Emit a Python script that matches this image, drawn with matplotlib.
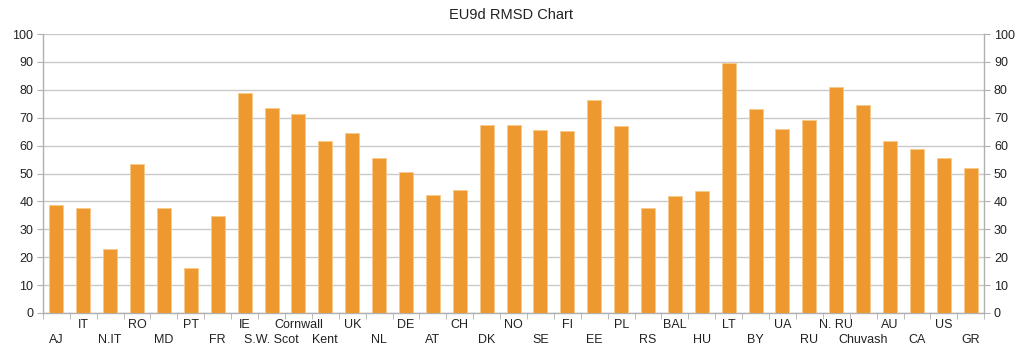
import matplotlib
matplotlib.use('Agg')
from matplotlib import pyplot as plt
import numpy as np

# populations along the x axis
labels = ['AJ', 'IT', 'N.IT', 'RO', 'MD', 'PT', 'FR', 'IE', 'S.W. Scot', 'Cornwall',
          'Kent', 'UK', 'NL', 'DE', 'AT', 'CH', 'DK', 'NO', 'SE', 'FI',
          'EE', 'PL', 'RS', 'BAL', 'HU', 'LT', 'BY', 'UA', 'RU', 'N. RU',
          'Chuvash', 'AU', 'CA', 'US', 'GR']
# RMSD values
rmsd = [38.6, 37.6, 22.8, 53.5, 37.7, 16.0, 34.9, 78.9, 73.6, 71.4,
        61.8, 64.6, 55.5, 50.5, 42.4, 44.0, 67.3, 67.4, 65.5, 65.4,
        76.3, 67.1, 37.7, 42.1, 43.6, 89.7, 73.0, 65.9, 69.1, 81.0,
        74.5, 61.7, 58.7, 55.7, 51.8]
yticks = list(range(0, 101, 10))

plt.rcParams['font.family'] = ['Liberation Sans', 'DejaVu Sans']

fig = plt.figure(figsize=(10.22, 3.47), dpi=100)
ax = fig.add_axes([0.042, 0.098, 0.921, 0.804])

x = np.arange(len(labels))
ax.bar(x, rmsd, width=0.52, color='#ee9930', edgecolor='#f6c98a', linewidth=0.6, zorder=3)

ax.set_xlim(-0.5, len(labels) - 0.5)
ax.set_ylim(0, 100)
ax.set_yticks(yticks)
ax.yaxis.grid(True, color='#c9c9c9', linewidth=1, zorder=0)

# labels alternate between two rows
ax.set_xticks(x)
ax.set_xticklabels(labels, fontsize=9, color='#222222')
for i, tick in enumerate(ax.xaxis.get_major_ticks()):
    tick.set_pad(15 if i % 2 == 0 else 4)
ax.tick_params(axis='x', which='major', length=0)
ax.set_xticks(np.arange(-0.5, len(labels)), minor=True)
ax.tick_params(axis='x', which='minor', length=4, color='#b0b0b0', direction='out')

ax.tick_params(axis='y', labelsize=9, labelcolor='#222222', length=4, color='#b0b0b0',
               left=True, right=True, labelleft=True, labelright=True, pad=3)

for side in ['left', 'right', 'bottom']:
    ax.spines[side].set_color('#b0b0b0')
    ax.spines[side].set_linewidth(1)
ax.spines['top'].set_visible(False)

fig.text(0.5, 0.957, 'EU9d RMSD Chart', ha='center', va='center', fontsize=10.5, color='#222222')

fig.savefig('out.png', dpi=100)
